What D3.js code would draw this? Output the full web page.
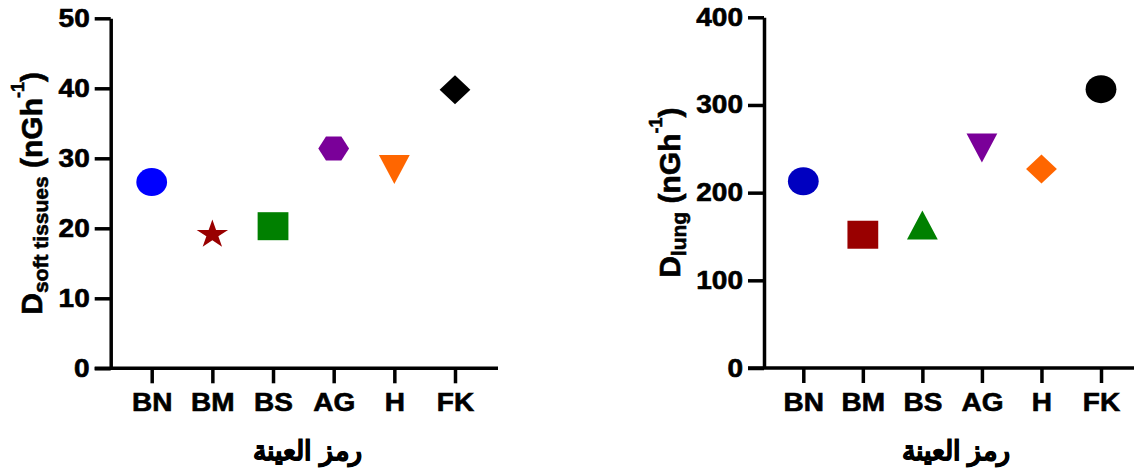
<!DOCTYPE html>
<html>
<head>
<meta charset="utf-8">
<script src="https://cdn.jsdelivr.net/npm/d3@7"></script>
<style>
  body { margin: 0; background: #fff; }
  text { font-family: "Liberation Sans", Arial, sans-serif; font-weight: bold; }
</style>
</head>
<body>
<svg id="chart" width="1134" height="472"></svg>
<script>
// Data
const categories = ["BN", "BM", "BS", "AG", "H", "FK"];
const softValues = [26.6, 19.1, 20.3, 31.4, 28.4, 39.8];
const lungValues = [213, 152, 163, 251, 227, 318];
const softTicks = [0, 10, 20, 30, 40, 50];
const lungTicks = [0, 100, 200, 300, 400];
const softShapes = ["circle", "star", "square", "hexagon", "triangleDown", "diamond"];
const softColors = ["#0000FF", "#990000", "#008000", "#7A0099", "#FF6600", "#000000"];
const lungShapes = ["circle", "square", "triangleUp", "triangleDown", "diamond", "circle"];
const lungColors = ["#0000C0", "#990000", "#008000", "#7A0099", "#FF6600", "#000000"];
const xTitle = "رمز العينة";

// custom symbol types (drawn before a small horizontal stretch)
const hexagon = { draw(ctx) {
  const R = 14;
  for (let i = 0; i < 6; i++) {
    const a = Math.PI / 3 * i;
    i ? ctx.lineTo(R * Math.cos(a), R * Math.sin(a)) : ctx.moveTo(R, 0);
  }
  ctx.closePath();
}};
const triangleDown = { draw(ctx) {
  ctx.moveTo(-14, -14.5); ctx.lineTo(14, -14.5); ctx.lineTo(0, 14.5); ctx.closePath();
}};
const triangleUp = { draw(ctx) {
  ctx.moveTo(-14, 14.5); ctx.lineTo(14, 14.5); ctx.lineTo(0, -14.5); ctx.closePath();
}};
const diamond = { draw(ctx) {
  ctx.moveTo(0, -14.5); ctx.lineTo(14, 0); ctx.lineTo(0, 14.5); ctx.lineTo(-14, 0); ctx.closePath();
}};

function symbolPath(kind) {
  if (kind === "circle") return d3.symbol(d3.symbolCircle, Math.PI * 14 * 14)();
  if (kind === "square") return d3.symbol(d3.symbolSquare, 28 * 28)();
  if (kind === "star") return d3.symbol(d3.symbolStar, 15 * 15 / 0.8908130915292852)();
  if (kind === "hexagon") return d3.symbol(hexagon)();
  if (kind === "triangleDown") return d3.symbol(triangleDown)();
  if (kind === "triangleUp") return d3.symbol(triangleUp)();
  return d3.symbol(diamond)();
}

const svg = d3.select("#chart");
const stretch = 1.12;

function heavy(sel) {
  sel.attr("font-weight", "bold")
    .attr("font-family", "Liberation Sans, Arial, sans-serif")
    .attr("fill", "#000").attr("stroke", "#000").attr("stroke-width", 0.6);
}

function drawPanel(p) {
  const g = svg.append("g");
  const x = d3.scalePoint().domain(categories).range([p.xFirst, p.xLast]);
  const y = d3.scaleLinear().domain([0, d3.max(p.ticks)]).range([p.y0, p.yTop]);

  // y axis
  const ya = g.append("g").attr("transform", `translate(${p.axisX},0)`)
    .call(d3.axisLeft(y).tickValues(p.ticks).tickSize(16).tickSizeOuter(0).tickPadding(5));
  ya.select(".domain").attr("stroke-width", 3.5);
  ya.selectAll(".tick line").attr("stroke-width", 3.5);
  ya.selectAll("text").attr("font-size", 25).call(heavy)
    .attr("x", -21 / stretch).attr("transform", `scale(${stretch},1)`);

  // x axis
  const xa = g.append("g").attr("transform", `translate(0,${p.y0})`)
    .call(d3.axisBottom(x).tickSize(15).tickPadding(10));
  xa.select(".domain").remove();
  xa.selectAll(".tick line").attr("stroke-width", 3.5);
  xa.selectAll("text").attr("font-size", 25).call(heavy)
    .attr("transform", `scale(${stretch},1)`);
  g.append("line")
    .attr("x1", p.axisX - 16).attr("x2", p.xRight)
    .attr("y1", y(0)).attr("y2", y(0))
    .attr("stroke", "#000").attr("stroke-width", 3.5);

  // points
  g.selectAll("path.pt")
    .data(p.values)
    .enter().append("path")
    .attr("class", "pt")
    .attr("d", (d, i) => symbolPath(p.shapes[i]))
    .attr("transform", (d, i) => `translate(${x(categories[i])},${y(d)}) scale(1.1,1)`)
    .attr("fill", (d, i) => p.colors[i]);

  // y title
  const t = g.append("text")
    .attr("transform", `translate(${p.titleX},${(p.y0 + p.yTop) / 2}) rotate(-90)`)
    .attr("text-anchor", "middle")
    .attr("font-size", 30)
    .attr("stroke", "#000").attr("stroke-width", 0.6);
  t.append("tspan").text("D");
  t.append("tspan").attr("font-size", 21).attr("dy", 6).text(p.sub);
  t.append("tspan").attr("dy", -6).text(" (nGh");
  t.append("tspan").attr("font-size", 18).attr("dy", -18).text("-1");
  t.append("tspan").attr("dy", 18).text(")");

  // x title
  g.append("text")
    .attr("x", (p.xFirst + p.xLast) / 2 + 4)
    .attr("y", 460)
    .attr("text-anchor", "middle")
    .attr("direction", "rtl")
    .attr("font-family", "DejaVu Sans, sans-serif")
    .attr("font-size", 27)
    .attr("stroke", "#000").attr("stroke-width", 0.9)
    .text(xTitle);
}

drawPanel({
  values: softValues, ticks: softTicks, shapes: softShapes, colors: softColors,
  sub: "soft tissues", axisX: 110.7, xFirst: 151.7, xLast: 455, xRight: 498,
  y0: 368.3, yTop: 18.3, titleX: 42
});
drawPanel({
  values: lungValues, ticks: lungTicks, shapes: lungShapes, colors: lungColors,
  sub: "lung", axisX: 764, xFirst: 803.3, xLast: 1101, xRight: 1134,
  y0: 368, yTop: 17.3, titleX: 680
});
</script>
</body>
</html>
